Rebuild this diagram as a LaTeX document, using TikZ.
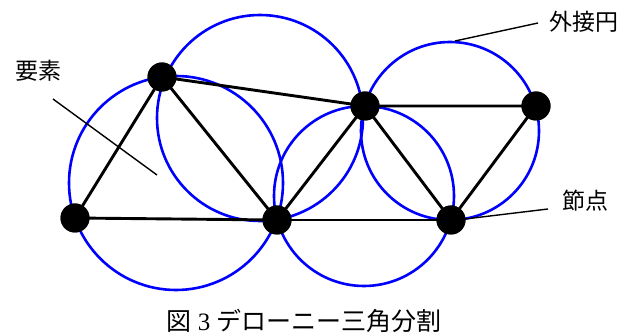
\documentclass[tikz,border=0pt]{standalone}
\usepackage{fontspec}
\setmainfont{Liberation Serif}
\newfontfamily\cjk{Noto Sans CJK JP}
\begin{document}
\begin{tikzpicture}[x=1pt,y=-1pt,
  vert/.style={circle,fill=black,inner sep=0pt,minimum size=29pt},
  edge/.style={draw=black,line width=2.9pt},
  ccirc/.style={draw=blue,line width=2.6pt},
  leader/.style={draw=black,line width=1.4pt},
  lbl/.style={font=\cjk\fontsize{23}{26}\selectfont,inner sep=0pt}]
\useasboundingbox (0,0) rectangle (638,336);
% circumcircles
\coordinate (o1) at (176,183);
\coordinate (o2) at (260,118);
\coordinate (o3) at (364,196);
\coordinate (o4) at (450,131);
\draw[ccirc] (o1) circle[radius=107pt];
\draw[ccirc] (o2) circle[radius=103pt];
\draw[ccirc] (o3) circle[radius=90pt];
\draw[ccirc] (o4) circle[radius=89pt];
% nodes
\node[vert] (A) at (75,218) {};
\node[vert] (B) at (162,77) {};
\node[vert] (C) at (365,106) {};
\node[vert] (D) at (536,106) {};
\node[vert] (E) at (277,220) {};
\node[vert] (F) at (451,220) {};
% edges
\draw[edge] (A.center) -- (B.center) -- (E.center) -- cycle;
\draw[edge] (B.center) -- (C.center) -- (E.center);
\draw[edge] (C.center) -- (D.center) -- (F.center) -- (C.center);
\draw[edge] (E.center) -- (F.center);
% redraw dots on top
\foreach \n in {A,B,C,D,E,F} \fill (\n.center) circle[radius=14.5pt];
% labels
\node[lbl] (yoso) at (39,71) {要素};
\node[lbl] (gai) at (584,22) {外接円};
\node[lbl] (setsu) at (585,201) {節点};
\coordinate (y1) at (53,99);
\coordinate (y2) at (157,175);
\coordinate (g1) at (538,23);
\coordinate (g2) at (455,41);
\coordinate (s1) at (548,209);
\coordinate (s2) at (465,219);
\draw[leader] (y1) -- (y2);
\draw[leader] (g1) -- (g2);
\draw[leader] (s1) -- (s2);
\node[inner sep=0pt,font=\fontsize{25}{28}\selectfont] (cap) at (304,321) {{\cjk 図} 3 {\cjk デローニー三角分割}};
\end{tikzpicture}
\end{document}
